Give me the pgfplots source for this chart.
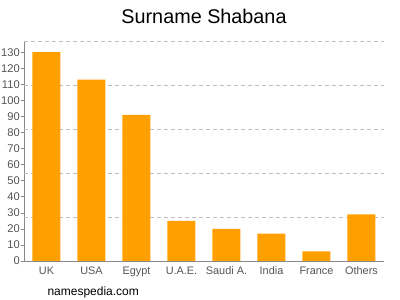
\documentclass[border=0pt]{standalone}
\usepackage{fontspec}
\setmainfont{Liberation Sans}
\usepackage{pgfplots}
\pgfplotsset{compat=1.18}
\definecolor{barc}{RGB}{255,160,0}
\definecolor{txt}{RGB}{85,85,85}
\definecolor{gridc}{RGB}{190,190,190}
\begin{document}
\begin{tikzpicture}[x=1pt,y=1pt]
\begin{axis}[
  at={(24pt,39pt)}, anchor=south west,
  scale only axis, width=360pt, height=220pt,
  xmin=-0.5, xmax=7.5, ymin=0, ymax=137,
  axis x line*=bottom, axis y line*=left,
  axis line style={draw=txt!70, line width=0.6pt},
  xtick={0,...,7},
  xticklabels={UK,USA,Egypt,U.A.E.,Saudi A.,India,France,Others},
  x tick label style={font=\fontsize{10.9}{12}\selectfont, text=txt, yshift=1pt},
  major x tick style={draw=none},
  ytick={0,10,...,130},
  y tick label style={font=\fontsize{11.2}{12}\selectfont, text=txt, inner sep=0pt, xshift=-1pt},
  /pgf/number format/assume math mode=true,
  tick align=outside, major tick length=3pt,
  y tick style={draw=txt!70, line width=0.6pt},
  extra y ticks={27.4,54.8,82.2,109.6,137},
  extra y tick labels={},
  extra y tick style={grid=major, major grid style={dashed, dash pattern=on 4pt off 3pt, draw=gridc, line width=0.6pt}, major tick length=0pt},
  clip=false,
]
\addplot[ybar, bar width=28pt, fill=barc, draw=none] coordinates {
  (0,130) (1,113) (2,91) (3,25) (4,20) (5,17) (6,6) (7,29)
};
\end{axis}
\node[font=\fontsize{19.8}{22}\selectfont, text=black] at (204,284) {Surname Shabana};
\node[font=\fontsize{12}{14}\selectfont, text=black, anchor=west] at (44,8) {namespedia.com};
\pgfresetboundingbox
\path[use as bounding box] (0,0) rectangle (400,300);
\end{tikzpicture}
\end{document}
